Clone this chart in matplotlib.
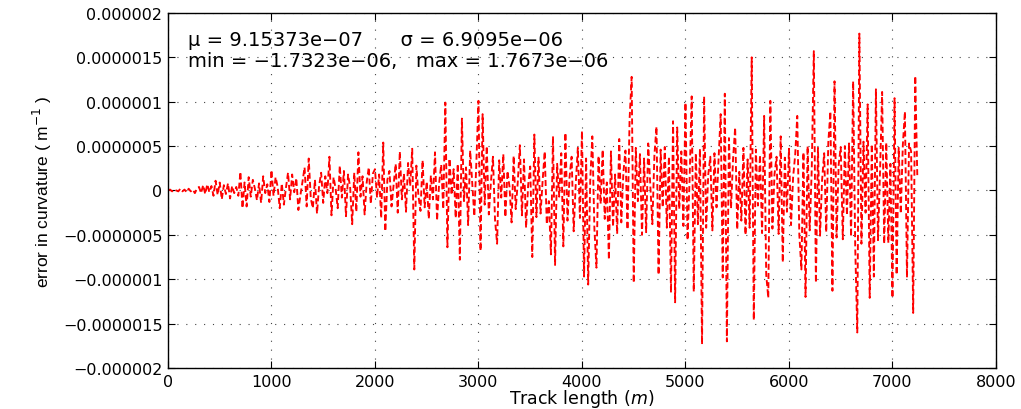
import numpy as np
import matplotlib
matplotlib.use("Agg")
import matplotlib.pyplot as plt
from matplotlib.ticker import FixedLocator, FixedFormatter

plt.rcParams['font.family'] = ['DejaVu Sans']

# Track positions (m), sampled every 20 m
track_m = np.arange(0, 7260, 20)

# Curvature error, in units of 1e-7 1/m, one value per track position
err_0_1000 = [
    0, 0.1, -0.1, 0.1, 0, -0.1, 0.2, -0.1, 0.1, -0.2, 0.2, -0.1, 0.1, -0.3, 0.2,
    0.4, -0.3, 0.6, -0.4, 0.7, -0.2, 0.5, -0.6, 1.1, -0.5, 0.9, -1.0, 0.6, -0.4, 0.8,
    -0.9, 0.5, -0.3, 0.4, -0.6,
    2.1, -2.0, 0.9, -1.8, 1.5, -0.7, 1.2, 0.2, -1.1, 0.8, -1.4, 1.6, -0.3, 0.7, -1.3,
]
err_1000_2000 = [
    2.3, -0.6, 1.5, 0.4, -2.0, 0.8, -1.6, 0.3, 2.0, -1.0,
    1.8, -0.2, 1.4, -2.2, -0.5, 1.0, 2.6, -1.8, 3.6, -0.9,
    -2.0, 1.2, -2.6, 0.5, 2.0, -1.4, 1.6, -0.3, 3.8, -2.8,
    1.5, 0.2, -2.0, 2.8, -0.8, 2.2, -2.9, 1.8, 0.4, -3.8,
    2.0, -2.4, 4.3, -0.7, 1.6, -2.7, 0.9, 2.6, -1.5, 1.9,
]
err_2000_3000 = [
    2.4, -0.8, 1.8, -3.1, 5.4, -4.6, 1.2, 2.2, -1.8, 0.6,
    3.0, -2.5, 4.4, -1.0, 1.9, -2.4, 3.1, 0.5, 4.7, -8.9,
    2.8, -0.6, -2.3, 3.4, -1.9, 1.0, -3.2, 1.7, -1.0, 4.3,
    -3.4, 0.8, 2.9, -2.1, 9.9, -6.4, 3.6, -0.5, 2.4, -3.1,
    3.0, -7.8, 8.1, -1.2, 2.6, -3.9, 4.5, 0.7, -2.9, 3.3,
]
err_3000_4000 = [
    10.1, -6.8, 8.6, -1.6, 5.0, -2.7, 0.9, 3.8, -3.3, -6.0,
    3.4, -0.8, 4.1, -3.0, 2.2, 0.4, -3.6, 3.9, -2.1, 1.0,
    5.1, -2.8, 3.5, -4.2, 0.6, 2.7, -7.5, 6.3, -3.0, 3.7,
    -2.6, 1.1, 4.4, -3.8, -1.2, -7.2, 6.1, -8.4, 3.0, -0.7,
    4.2, -6.3, 6.5, -3.4, 1.5, 3.8, -4.6, 0.8, 4.8, -3.1,
]
err_4000_5000 = [
    6.7, -9.7, 3.6, -10.6, 1.2, 6.1, -4.3, -8.7, 3.9, -1.5,
    4.6, -3.2, 0.9, -7.8, 4.4, -4.1, 1.8, -4.9, 5.8, -3.6,
    2.0, 4.5, -4.4, 8.0, 12.8, -10.4, 4.8, -1.2, 4.1, -5.0,
    3.6, -4.7, 5.3, 0.6, -3.8, 4.0, 7.2, -9.5, 4.6, -1.9,
    4.9, -4.2, 3.8, -11.5, 7.8, -12.6, 7.1, -2.1, 4.4, -4.0,
]
err_5000_6000 = [
    9.9, -5.6, 1.3, 10.6, -11.4, 4.2, -3.8, 4.7, -17.323, 10.6,
    -4.2, 1.8, 3.8, -4.5, 4.2, -1.9, 3.6, 8.6, -9.8, 10.9,
    -17.0, 5.9, -2.0, 3.6, 7.1, -4.4, 2.1, -3.4, 4.8, -5.0,
    3.5, -4.2, 15.0, -14.6, 4.6, -1.7, 4.0, -4.8, 8.4, -9.5,
    -12.1, 10.1, -4.3, 1.8, 3.8, -4.9, 6.1, -8.1, 3.7, -2.4,
]
err_6000_7000 = [
    4.7, -3.9, 1.5, 4.0, 8.4, -5.0, -8.9, 4.3, -12.0, 5.0,
    -4.5, 2.4, 15.7, -10.4, 4.8, -5.1, 1.2, 4.2, -4.7, 5.4,
    8.9, -11.3, 12.3, -5.3, 2.9, 4.9, -5.5, 5.0, -2.8, 5.3,
    -5.2, 12.3, -6.4, -16.0, 17.673, -6.0, 5.5, -2.5, 9.7, -12.1,
    5.2, -9.7, 11.4, -5.6, 2.2, 11.1, -6.0, 5.4, -5.9, 3.0,
]
err_7000_end = [
    -12.1, 10.4, -9.5, 4.8, -2.6, 5.1, 8.9, -9.8, 5.3, 4.4,
    -13.8, 12.9, 1.5,
]

curv_err = 1e-7 * np.array(err_0_1000 + err_1000_2000 + err_2000_3000 +
                           err_3000_4000 + err_4000_5000 + err_5000_6000 +
                           err_6000_7000 + err_7000_end)

x_ticks = [0, 1000, 2000, 3000, 4000, 5000, 6000, 7000, 8000]
x_tick_labels = ['0', '1000', '2000', '3000', '4000', '5000', '6000', '7000', '8000']
y_ticks = [-2e-6, -1.5e-6, -1e-6, -0.5e-6, 0, 0.5e-6, 1e-6, 1.5e-6, 2e-6]
y_tick_labels = ['\u22120.000002', '\u22120.0000015', '\u22120.000001', '\u22120.0000005',
                 '0', '0.0000005', '0.000001', '0.0000015', '0.000002']

stats_line1 = '\u03bc = 9.15373e\u221207      \u03c3 = 6.9095e\u221206'
stats_line2 = 'min = \u22121.7323e\u221206,   max = 1.7673e\u221206'

fig = plt.figure(figsize=(10.21, 4.10), dpi=100)
ax = fig.add_axes([0.1645, 0.1, 0.811, 0.866])

ax.plot(track_m, curv_err, color='#ff0000', lw=1.35, dashes=(3.2, 1.7))

ax.set_xlim(0, 8000)
ax.set_ylim(-2e-6, 2e-6)
ax.xaxis.set_major_locator(FixedLocator(x_ticks))
ax.xaxis.set_major_formatter(FixedFormatter(x_tick_labels))
ax.yaxis.set_major_locator(FixedLocator(y_ticks))
ax.yaxis.set_major_formatter(FixedFormatter(y_tick_labels))

ax.tick_params(direction='in', length=5, width=0.8, top=True, right=True,
               labelsize=11.5, colors='black', pad=4)
ax.grid(True, color='#444444', linestyle=(0, (1, 7)), linewidth=0.8)
for sp in ax.spines.values():
    sp.set_linewidth(1.0)

ax.set_xlabel('Track length ($\\it{m}$)', fontsize=12.5, labelpad=-1)
ax.set_ylabel('error in curvature ( m$^{-1}$ )', fontsize=12.5, labelpad=6,
              family=['Liberation Sans', 'DejaVu Sans'])

ax.text(0.024, 0.925, stats_line1, transform=ax.transAxes, fontsize=14,
        va='center', ha='left')
ax.text(0.024, 0.865, stats_line2, transform=ax.transAxes, fontsize=14,
        va='center', ha='left')

fig.savefig('out.png', dpi=100)
